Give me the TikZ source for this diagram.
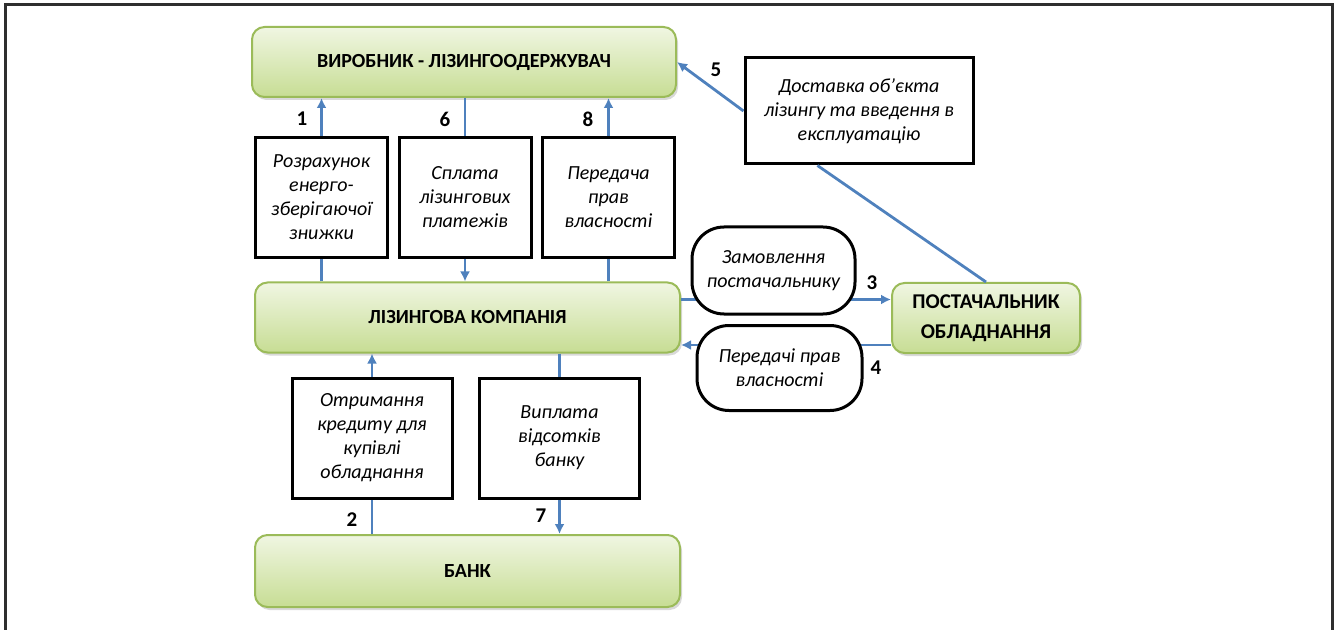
\documentclass[tikz,border=0pt]{standalone}
\usepackage{fontspec}
\setmainfont{Carlito}
\usetikzlibrary{calc, shadows, arrows.meta}
\definecolor{grnline}{HTML}{9BBB59}
\definecolor{grntop}{HTML}{F0F6E2}
\definecolor{grnbot}{HTML}{C7DD94}
\definecolor{arblue}{HTML}{4F81BD}
\definecolor{frm}{HTML}{2E2E2E}

\begin{document}
\begin{tikzpicture}[x=0.5pt, y=-0.5pt,
                every node/.style={inner sep=1mm, align=center},
                grn/.style={draw=grnline, line width=1pt, rounded corners=2.2mm,
                    top color=grntop, bottom color=grnbot,
                    font=\bfseries\fontsize{10}{15}\selectfont,
                    drop shadow={opacity=0.3, shadow xshift=1pt, shadow yshift=-1.5pt}},
                bx/.style={draw, line width=1.5pt, fill=white, font=\itshape\fontsize{10}{12}\selectfont},
                pill/.style={bx, rounded corners=16pt},
                ar/.style={draw=arblue, line width=1.4pt, -{Latex[length=5pt,width=5pt]}},
                ln/.style={draw=arblue, line width=1.4pt},
                num/.style={font=\bfseries\fontsize{10.5}{12}\selectfont, inner sep=0pt}]

    \useasboundingbox (0,0) rectangle (1336,630); % page of the figure
    \draw[frm, line width=1.5pt] (5,630) -- (5,5) -- (1332,5) -- (1332,630); % open frame

    \node[grn, minimum width=212pt, minimum height=35pt]   (prod) at (464,62)     {ВИРОБНИК - ЛІЗИНГООДЕРЖУВАЧ};
    \node[grn, minimum width=212.5pt, minimum height=35pt] (lc)   at (467.5,317.5) {ЛІЗИНГОВА КОМПАНІЯ};
    \node[grn, minimum width=212.5pt, minimum height=36pt] (bank) at (467.5,571)  {БАНК};
    \node[grn, minimum width=94pt, minimum height=35pt, font=\bfseries\fontsize{10.5}{15}\selectfont]
                                                           (supp) at (986,318)    {ПОСТАЧАЛЬНИК\\ОБЛАДНАННЯ};

    \node[bx, minimum width=66pt, minimum height=60pt] (r1) at (321.5,197.5) {Розрахунок\\енерго-\\зберігаючої\\знижки};
    \node[bx, minimum width=66pt, minimum height=60pt] (s6) at (465,197.5)   {Сплата\\лізингових\\платежів};
    \node[bx, minimum width=66pt, minimum height=60pt] (p8) at (608.5,197.5) {Передача\\прав\\власності};
    \node[bx, minimum width=80pt, minimum height=60pt] (o2) at (372,438)     {Отримання\\кредиту для\\купівлі\\обладнання};
    \node[bx, minimum width=80pt, minimum height=60pt] (v7) at (559.5,438)   {Виплата\\відсотків\\банку};
    \node[bx, minimum width=114pt, minimum height=53pt] (del5) at (859,111)  {Доставка об’єкта\\лізингу та введення в\\експлуатацію};

    % steps 1, 6, 8
    \draw[ln] (lc.north -| r1.south) -- (r1.south);
    \draw[ar] (r1.north) -- (r1.north |- prod.south);
    \draw[ln] (s6.north |- prod.south) -- (s6.north);
    \draw[ar] (s6.south) -- (s6.south |- lc.north);
    \draw[ln] (lc.north -| p8.south) -- (p8.south);
    \draw[ar] (p8.north) -- (p8.north |- prod.south);
    % steps 2, 7
    \draw[ln] (bank.north -| o2.south) -- (o2.south);
    \draw[ar] (o2.north) -- (o2.north |- lc.south);
    \draw[ln] (lc.south -| v7.north) -- (v7.north);
    \draw[ar] (v7.south) -- (v7.south |- bank.north);
    % step 5
    \draw[ln] (supp.north) -- ($(del5.south west)!0.32!(del5.south east)$);
    \draw[ar] (del5.west) -- (prod.east);
    % steps 3, 4
    \draw[ar] ([yshift=9pt]lc.east) -- ([yshift=9pt]lc.east -| supp.west);
    \draw[ar] ([yshift=-13.5pt]supp.west) -- ([yshift=-13.5pt]supp.west -| lc.east);

    \node[pill, minimum width=81.5pt, minimum height=43.5pt] (zam3) at (773.5,270.5) {Замовлення\\постачальнику};
    \node[pill, minimum width=82.5pt, minimum height=42.5pt] (per4) at (779.5,368)   {Передачі прав\\власності};

    \node[num] (n1) at (302,119) {1};
    \node[num] (n6) at (445,119) {6};
    \node[num] (n8) at (588,119) {8};
    \node[num] (n2) at (352,520) {2};
    \node[num] (n7) at (541,516) {7};
    \node[num] (n5) at (716,70)  {5};
    \node[num] (n3) at (872,283) {3};
    \node[num] (n4) at (876,368) {4};

\end{tikzpicture}
\end{document}
